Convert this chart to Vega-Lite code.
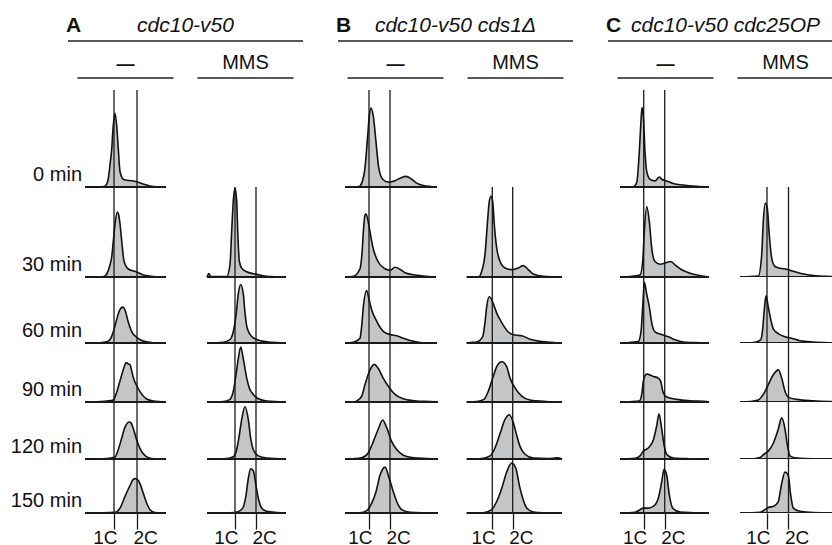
{
"$schema":"https://vega.github.io/schema/vega-lite/v6.json",
"padding":0,
"spacing":0,
"datasets":{
"markers":[{"ploidy":"1C","dna":1},{"ploidy":"2C","dna":2}],
"strains":[{"g":"A","lvl":"strain","strain":"cdc10-v50"},{"g":"B","lvl":"strain","strain":"cdc10-v50 cds1Δ"},{"g":"C","lvl":"strain","strain":"cdc10-v50 cdc25OP"}],
"treatments":[{"g":"A","lvl":"treatment","tr":"—"},{"g":"A","lvl":"treatment","tr":"MMS"},{"g":"B","lvl":"treatment","tr":"—"},{"g":"B","lvl":"treatment","tr":"MMS"},{"g":"C","lvl":"treatment","tr":"—"},{"g":"C","lvl":"treatment","tr":"MMS"}],
"flow":[
{"g":"A","tr":"—","min":0,"dna":-0.26,"n":0},{"g":"A","tr":"—","min":0,"dna":0.565,"n":0.5},{"g":"A","tr":"—","min":0,"dna":0.683,"n":3},{"g":"A","tr":"—","min":0,"dna":0.761,"n":10},{"g":"A","tr":"—","min":0,"dna":0.826,"n":23},{"g":"A","tr":"—","min":0,"dna":0.9,"n":39},{"g":"A","tr":"—","min":0,"dna":0.957,"n":60},{"g":"A","tr":"—","min":0,"dna":1.043,"n":76},{"g":"A","tr":"—","min":0,"dna":1.117,"n":63},{"g":"A","tr":"—","min":0,"dna":1.187,"n":39},{"g":"A","tr":"—","min":0,"dna":1.261,"n":16},{"g":"A","tr":"—","min":0,"dna":1.404,"n":8},{"g":"A","tr":"—","min":0,"dna":1.552,"n":7},{"g":"A","tr":"—","min":0,"dna":1.739,"n":6.5},{"g":"A","tr":"—","min":0,"dna":1.987,"n":5.5},{"g":"A","tr":"—","min":0,"dna":2.274,"n":3},{"g":"A","tr":"—","min":0,"dna":2.565,"n":1},{"g":"A","tr":"—","min":0,"dna":2.913,"n":0.2},{"g":"A","tr":"—","min":0,"dna":3.261,"n":0},
{"g":"A","tr":"—","min":30,"dna":-0.26,"n":0},{"g":"A","tr":"—","min":30,"dna":0.565,"n":0.5},{"g":"A","tr":"—","min":30,"dna":0.683,"n":3},{"g":"A","tr":"—","min":30,"dna":0.826,"n":12},{"g":"A","tr":"—","min":30,"dna":0.9,"n":20},{"g":"A","tr":"—","min":30,"dna":0.97,"n":36},{"g":"A","tr":"—","min":30,"dna":1.043,"n":53},{"g":"A","tr":"—","min":30,"dna":1.143,"n":65},{"g":"A","tr":"—","min":30,"dna":1.204,"n":62},{"g":"A","tr":"—","min":30,"dna":1.261,"n":53},{"g":"A","tr":"—","min":30,"dna":1.335,"n":36},{"g":"A","tr":"—","min":30,"dna":1.435,"n":16},{"g":"A","tr":"—","min":30,"dna":1.622,"n":8},{"g":"A","tr":"—","min":30,"dna":1.987,"n":5},{"g":"A","tr":"—","min":30,"dna":2.274,"n":2},{"g":"A","tr":"—","min":30,"dna":2.696,"n":0.5},{"g":"A","tr":"—","min":30,"dna":3.261,"n":0},
{"g":"A","tr":"—","min":60,"dna":-0.26,"n":0},{"g":"A","tr":"—","min":60,"dna":0.391,"n":0.3},{"g":"A","tr":"—","min":60,"dna":0.683,"n":1.3},{"g":"A","tr":"—","min":60,"dna":0.826,"n":3.7},{"g":"A","tr":"—","min":60,"dna":0.97,"n":12},{"g":"A","tr":"—","min":60,"dna":1.117,"n":25},{"g":"A","tr":"—","min":60,"dna":1.23,"n":34},{"g":"A","tr":"—","min":60,"dna":1.378,"n":38},{"g":"A","tr":"—","min":60,"dna":1.478,"n":35},{"g":"A","tr":"—","min":60,"dna":1.622,"n":22},{"g":"A","tr":"—","min":60,"dna":1.77,"n":12},{"g":"A","tr":"—","min":60,"dna":1.987,"n":6},{"g":"A","tr":"—","min":60,"dna":2.274,"n":2},{"g":"A","tr":"—","min":60,"dna":2.709,"n":0.3},{"g":"A","tr":"—","min":60,"dna":3.261,"n":0},
{"g":"A","tr":"—","min":90,"dna":-0.26,"n":0},{"g":"A","tr":"—","min":90,"dna":0.391,"n":0.5},{"g":"A","tr":"—","min":90,"dna":0.683,"n":1},{"g":"A","tr":"—","min":90,"dna":0.97,"n":2},{"g":"A","tr":"—","min":90,"dna":1.117,"n":10},{"g":"A","tr":"—","min":90,"dna":1.261,"n":21.5},{"g":"A","tr":"—","min":90,"dna":1.435,"n":35},{"g":"A","tr":"—","min":90,"dna":1.522,"n":40},{"g":"A","tr":"—","min":90,"dna":1.609,"n":39},{"g":"A","tr":"—","min":90,"dna":1.696,"n":38},{"g":"A","tr":"—","min":90,"dna":1.77,"n":31.5},{"g":"A","tr":"—","min":90,"dna":1.839,"n":25},{"g":"A","tr":"—","min":90,"dna":1.987,"n":16.5},{"g":"A","tr":"—","min":90,"dna":2.204,"n":8},{"g":"A","tr":"—","min":90,"dna":2.422,"n":3},{"g":"A","tr":"—","min":90,"dna":2.709,"n":1},{"g":"A","tr":"—","min":90,"dna":3.261,"n":0},
{"g":"A","tr":"—","min":120,"dna":-0.26,"n":0},{"g":"A","tr":"—","min":120,"dna":0.683,"n":0.5},{"g":"A","tr":"—","min":120,"dna":1.043,"n":2},{"g":"A","tr":"—","min":120,"dna":1.187,"n":10},{"g":"A","tr":"—","min":120,"dna":1.335,"n":22},{"g":"A","tr":"—","min":120,"dna":1.478,"n":33.5},{"g":"A","tr":"—","min":120,"dna":1.665,"n":39},{"g":"A","tr":"—","min":120,"dna":1.739,"n":38},{"g":"A","tr":"—","min":120,"dna":1.839,"n":32},{"g":"A","tr":"—","min":120,"dna":1.987,"n":20},{"g":"A","tr":"—","min":120,"dna":2.13,"n":11},{"g":"A","tr":"—","min":120,"dna":2.348,"n":3.5},{"g":"A","tr":"—","min":120,"dna":2.639,"n":0.5},{"g":"A","tr":"—","min":120,"dna":3.261,"n":0},
{"g":"A","tr":"—","min":150,"dna":-0.26,"n":0},{"g":"A","tr":"—","min":150,"dna":1.043,"n":0.7},{"g":"A","tr":"—","min":150,"dna":1.261,"n":5},{"g":"A","tr":"—","min":150,"dna":1.478,"n":17},{"g":"A","tr":"—","min":150,"dna":1.696,"n":28},{"g":"A","tr":"—","min":150,"dna":1.826,"n":34},{"g":"A","tr":"—","min":150,"dna":1.913,"n":35},{"g":"A","tr":"—","min":150,"dna":2.0,"n":34.5},{"g":"A","tr":"—","min":150,"dna":2.13,"n":30},{"g":"A","tr":"—","min":150,"dna":2.274,"n":20},{"g":"A","tr":"—","min":150,"dna":2.422,"n":10},{"g":"A","tr":"—","min":150,"dna":2.565,"n":3.4},{"g":"A","tr":"—","min":150,"dna":2.783,"n":0.5},{"g":"A","tr":"—","min":150,"dna":3.261,"n":0},
{"g":"A","tr":"MMS","min":30,"dna":-0.333,"n":0},{"g":"A","tr":"MMS","min":30,"dna":-0.238,"n":3.5},{"g":"A","tr":"MMS","min":30,"dna":-0.167,"n":0.5},{"g":"A","tr":"MMS","min":30,"dna":0.605,"n":0.5},{"g":"A","tr":"MMS","min":30,"dna":0.762,"n":12.7},{"g":"A","tr":"MMS","min":30,"dna":0.843,"n":46},{"g":"A","tr":"MMS","min":30,"dna":0.919,"n":76},{"g":"A","tr":"MMS","min":30,"dna":1.0,"n":89},{"g":"A","tr":"MMS","min":30,"dna":1.081,"n":76},{"g":"A","tr":"MMS","min":30,"dna":1.129,"n":46},{"g":"A","tr":"MMS","min":30,"dna":1.205,"n":16},{"g":"A","tr":"MMS","min":30,"dna":1.319,"n":8.7},{"g":"A","tr":"MMS","min":30,"dna":1.557,"n":5.3},{"g":"A","tr":"MMS","min":30,"dna":1.871,"n":3.3},{"g":"A","tr":"MMS","min":30,"dna":2.19,"n":2},{"g":"A","tr":"MMS","min":30,"dna":2.51,"n":0.7},{"g":"A","tr":"MMS","min":30,"dna":3.429,"n":0},
{"g":"A","tr":"MMS","min":60,"dna":-0.333,"n":0},{"g":"A","tr":"MMS","min":60,"dna":0.443,"n":0.7},{"g":"A","tr":"MMS","min":60,"dna":0.762,"n":3.7},{"g":"A","tr":"MMS","min":60,"dna":0.919,"n":12},{"g":"A","tr":"MMS","min":60,"dna":1.048,"n":29},{"g":"A","tr":"MMS","min":60,"dna":1.157,"n":52},{"g":"A","tr":"MMS","min":60,"dna":1.271,"n":62},{"g":"A","tr":"MMS","min":60,"dna":1.395,"n":52},{"g":"A","tr":"MMS","min":60,"dna":1.476,"n":32},{"g":"A","tr":"MMS","min":60,"dna":1.586,"n":15.3},{"g":"A","tr":"MMS","min":60,"dna":1.795,"n":7},{"g":"A","tr":"MMS","min":60,"dna":2.033,"n":3.7},{"g":"A","tr":"MMS","min":60,"dna":2.51,"n":1.3},{"g":"A","tr":"MMS","min":60,"dna":3.143,"n":0.3},{"g":"A","tr":"MMS","min":60,"dna":3.429,"n":0},
{"g":"A","tr":"MMS","min":90,"dna":-0.333,"n":0},{"g":"A","tr":"MMS","min":90,"dna":0.443,"n":0.5},{"g":"A","tr":"MMS","min":90,"dna":0.762,"n":2.7},{"g":"A","tr":"MMS","min":90,"dna":0.919,"n":11},{"g":"A","tr":"MMS","min":90,"dna":1.048,"n":27.7},{"g":"A","tr":"MMS","min":90,"dna":1.157,"n":44},{"g":"A","tr":"MMS","min":90,"dna":1.271,"n":56},{"g":"A","tr":"MMS","min":90,"dna":1.395,"n":44},{"g":"A","tr":"MMS","min":90,"dna":1.557,"n":24.3},{"g":"A","tr":"MMS","min":90,"dna":1.681,"n":14.3},{"g":"A","tr":"MMS","min":90,"dna":1.871,"n":7.7},{"g":"A","tr":"MMS","min":90,"dna":2.11,"n":3.3},{"g":"A","tr":"MMS","min":90,"dna":2.51,"n":1},{"g":"A","tr":"MMS","min":90,"dna":3.429,"n":0},
{"g":"A","tr":"MMS","min":120,"dna":-0.333,"n":0},{"g":"A","tr":"MMS","min":120,"dna":0.605,"n":0.5},{"g":"A","tr":"MMS","min":120,"dna":0.919,"n":2.3},{"g":"A","tr":"MMS","min":120,"dna":1.081,"n":10},{"g":"A","tr":"MMS","min":120,"dna":1.205,"n":25},{"g":"A","tr":"MMS","min":120,"dna":1.319,"n":41.6},{"g":"A","tr":"MMS","min":120,"dna":1.476,"n":55},{"g":"A","tr":"MMS","min":120,"dna":1.633,"n":41.6},{"g":"A","tr":"MMS","min":120,"dna":1.748,"n":21.6},{"g":"A","tr":"MMS","min":120,"dna":1.871,"n":10},{"g":"A","tr":"MMS","min":120,"dna":2.11,"n":3.3},{"g":"A","tr":"MMS","min":120,"dna":2.51,"n":1},{"g":"A","tr":"MMS","min":120,"dna":3.429,"n":0},
{"g":"A","tr":"MMS","min":150,"dna":-0.333,"n":0},{"g":"A","tr":"MMS","min":150,"dna":0.762,"n":0.3},{"g":"A","tr":"MMS","min":150,"dna":1.11,"n":1},{"g":"A","tr":"MMS","min":150,"dna":1.367,"n":5},{"g":"A","tr":"MMS","min":150,"dna":1.524,"n":18},{"g":"A","tr":"MMS","min":150,"dna":1.633,"n":35},{"g":"A","tr":"MMS","min":150,"dna":1.748,"n":45},{"g":"A","tr":"MMS","min":150,"dna":1.871,"n":43},{"g":"A","tr":"MMS","min":150,"dna":2.0,"n":28},{"g":"A","tr":"MMS","min":150,"dna":2.11,"n":15},{"g":"A","tr":"MMS","min":150,"dna":2.271,"n":5},{"g":"A","tr":"MMS","min":150,"dna":2.51,"n":1.7},{"g":"A","tr":"MMS","min":150,"dna":2.986,"n":0.5},{"g":"A","tr":"MMS","min":150,"dna":3.429,"n":0},
{"g":"B","tr":"—","min":0,"dna":-0.143,"n":0},{"g":"B","tr":"—","min":0,"dna":0.524,"n":0.5},{"g":"B","tr":"—","min":0,"dna":0.652,"n":4},{"g":"B","tr":"—","min":0,"dna":0.81,"n":20},{"g":"B","tr":"—","min":0,"dna":0.938,"n":53},{"g":"B","tr":"—","min":0,"dna":1.014,"n":73},{"g":"B","tr":"—","min":0,"dna":1.095,"n":81.5},{"g":"B","tr":"—","min":0,"dna":1.205,"n":73},{"g":"B","tr":"—","min":0,"dna":1.333,"n":46.5},{"g":"B","tr":"—","min":0,"dna":1.462,"n":20},{"g":"B","tr":"—","min":0,"dna":1.652,"n":8},{"g":"B","tr":"—","min":0,"dna":1.919,"n":5},{"g":"B","tr":"—","min":0,"dna":2.238,"n":6.5},{"g":"B","tr":"—","min":0,"dna":2.476,"n":9},{"g":"B","tr":"—","min":0,"dna":2.762,"n":11},{"g":"B","tr":"—","min":0,"dna":3.033,"n":8},{"g":"B","tr":"—","min":0,"dna":3.271,"n":4},{"g":"B","tr":"—","min":0,"dna":3.586,"n":1.5},{"g":"B","tr":"—","min":0,"dna":4.238,"n":0},
{"g":"B","tr":"—","min":30,"dna":-0.143,"n":0},{"g":"B","tr":"—","min":30,"dna":0.252,"n":0.7},{"g":"B","tr":"—","min":30,"dna":0.571,"n":8.3},{"g":"B","tr":"—","min":30,"dna":0.681,"n":28},{"g":"B","tr":"—","min":30,"dna":0.729,"n":45},{"g":"B","tr":"—","min":30,"dna":0.81,"n":62},{"g":"B","tr":"—","min":30,"dna":0.857,"n":63},{"g":"B","tr":"—","min":30,"dna":0.938,"n":58},{"g":"B","tr":"—","min":30,"dna":1.048,"n":45},{"g":"B","tr":"—","min":30,"dna":1.205,"n":28},{"g":"B","tr":"—","min":30,"dna":1.443,"n":15},{"g":"B","tr":"—","min":30,"dna":1.762,"n":8.3},{"g":"B","tr":"—","min":30,"dna":2.0,"n":6.7},{"g":"B","tr":"—","min":30,"dna":2.238,"n":9.7},{"g":"B","tr":"—","min":30,"dna":2.476,"n":7.7},{"g":"B","tr":"—","min":30,"dna":2.714,"n":4.3},{"g":"B","tr":"—","min":30,"dna":3.11,"n":2.3},{"g":"B","tr":"—","min":30,"dna":3.586,"n":1},{"g":"B","tr":"—","min":30,"dna":4.19,"n":0},
{"g":"B","tr":"—","min":60,"dna":-0.143,"n":0},{"g":"B","tr":"—","min":60,"dna":0.252,"n":0.8},{"g":"B","tr":"—","min":60,"dna":0.571,"n":5},{"g":"B","tr":"—","min":60,"dna":0.652,"n":18},{"g":"B","tr":"—","min":60,"dna":0.729,"n":38},{"g":"B","tr":"—","min":60,"dna":0.89,"n":55.7},{"g":"B","tr":"—","min":60,"dna":1.014,"n":45},{"g":"B","tr":"—","min":60,"dna":1.129,"n":35},{"g":"B","tr":"—","min":60,"dna":1.367,"n":23},{"g":"B","tr":"—","min":60,"dna":1.681,"n":12.4},{"g":"B","tr":"—","min":60,"dna":2.0,"n":9},{"g":"B","tr":"—","min":60,"dna":2.319,"n":7.7},{"g":"B","tr":"—","min":60,"dna":2.633,"n":5},{"g":"B","tr":"—","min":60,"dna":2.952,"n":2.7},{"g":"B","tr":"—","min":60,"dna":3.429,"n":0.5},{"g":"B","tr":"—","min":60,"dna":4.238,"n":0},
{"g":"B","tr":"—","min":90,"dna":-0.143,"n":0},{"g":"B","tr":"—","min":90,"dna":0.333,"n":0.3},{"g":"B","tr":"—","min":90,"dna":0.414,"n":1},{"g":"B","tr":"—","min":90,"dna":0.652,"n":6},{"g":"B","tr":"—","min":90,"dna":0.81,"n":17.7},{"g":"B","tr":"—","min":90,"dna":1.014,"n":31},{"g":"B","tr":"—","min":90,"dna":1.252,"n":38.3},{"g":"B","tr":"—","min":90,"dna":1.443,"n":34},{"g":"B","tr":"—","min":90,"dna":1.681,"n":24},{"g":"B","tr":"—","min":90,"dna":1.919,"n":16},{"g":"B","tr":"—","min":90,"dna":2.238,"n":7.7},{"g":"B","tr":"—","min":90,"dna":2.633,"n":3.3},{"g":"B","tr":"—","min":90,"dna":3.271,"n":1},{"g":"B","tr":"—","min":90,"dna":3.905,"n":0.5},{"g":"B","tr":"—","min":90,"dna":4.286,"n":0},
{"g":"B","tr":"—","min":120,"dna":-0.143,"n":0},{"g":"B","tr":"—","min":120,"dna":0.252,"n":0.3},{"g":"B","tr":"—","min":120,"dna":0.652,"n":1.3},{"g":"B","tr":"—","min":120,"dna":0.967,"n":6.6},{"g":"B","tr":"—","min":120,"dna":1.205,"n":18.3},{"g":"B","tr":"—","min":120,"dna":1.443,"n":31.6},{"g":"B","tr":"—","min":120,"dna":1.652,"n":41},{"g":"B","tr":"—","min":120,"dna":1.843,"n":33},{"g":"B","tr":"—","min":120,"dna":2.081,"n":18.3},{"g":"B","tr":"—","min":120,"dna":2.319,"n":10},{"g":"B","tr":"—","min":120,"dna":2.633,"n":4},{"g":"B","tr":"—","min":120,"dna":3.11,"n":1.3},{"g":"B","tr":"—","min":120,"dna":3.748,"n":0.5},{"g":"B","tr":"—","min":120,"dna":4.286,"n":0},
{"g":"B","tr":"—","min":150,"dna":-0.143,"n":0},{"g":"B","tr":"—","min":150,"dna":0.571,"n":0.3},{"g":"B","tr":"—","min":150,"dna":0.89,"n":2.4},{"g":"B","tr":"—","min":150,"dna":1.129,"n":10},{"g":"B","tr":"—","min":150,"dna":1.333,"n":21.7},{"g":"B","tr":"—","min":150,"dna":1.524,"n":38.4},{"g":"B","tr":"—","min":150,"dna":1.762,"n":46.7},{"g":"B","tr":"—","min":150,"dna":1.967,"n":35},{"g":"B","tr":"—","min":150,"dna":2.157,"n":21.7},{"g":"B","tr":"—","min":150,"dna":2.319,"n":11.7},{"g":"B","tr":"—","min":150,"dna":2.557,"n":3.4},{"g":"B","tr":"—","min":150,"dna":2.952,"n":0.7},{"g":"B","tr":"—","min":150,"dna":4.286,"n":0},
{"g":"B","tr":"MMS","min":30,"dna":-0.255,"n":0},{"g":"B","tr":"MMS","min":30,"dna":0.363,"n":0.5},{"g":"B","tr":"MMS","min":30,"dna":0.48,"n":5.7},{"g":"B","tr":"MMS","min":30,"dna":0.642,"n":22.4},{"g":"B","tr":"MMS","min":30,"dna":0.755,"n":52.4},{"g":"B","tr":"MMS","min":30,"dna":0.853,"n":75.7},{"g":"B","tr":"MMS","min":30,"dna":0.936,"n":80.7},{"g":"B","tr":"MMS","min":30,"dna":1.02,"n":75.7},{"g":"B","tr":"MMS","min":30,"dna":1.098,"n":52.4},{"g":"B","tr":"MMS","min":30,"dna":1.216,"n":29},{"g":"B","tr":"MMS","min":30,"dna":1.377,"n":15.7},{"g":"B","tr":"MMS","min":30,"dna":1.623,"n":9},{"g":"B","tr":"MMS","min":30,"dna":1.951,"n":7.4},{"g":"B","tr":"MMS","min":30,"dna":2.275,"n":9},{"g":"B","tr":"MMS","min":30,"dna":2.52,"n":11.4},{"g":"B","tr":"MMS","min":30,"dna":2.765,"n":7.4},{"g":"B","tr":"MMS","min":30,"dna":3.01,"n":3},{"g":"B","tr":"MMS","min":30,"dna":3.5,"n":0.7},{"g":"B","tr":"MMS","min":30,"dna":4.417,"n":0},
{"g":"B","tr":"MMS","min":60,"dna":-0.255,"n":0},{"g":"B","tr":"MMS","min":60,"dna":-0.176,"n":0.3},{"g":"B","tr":"MMS","min":60,"dna":0.235,"n":1},{"g":"B","tr":"MMS","min":60,"dna":0.529,"n":6.7},{"g":"B","tr":"MMS","min":60,"dna":0.642,"n":21.7},{"g":"B","tr":"MMS","min":60,"dna":0.725,"n":38.4},{"g":"B","tr":"MMS","min":60,"dna":0.853,"n":49},{"g":"B","tr":"MMS","min":60,"dna":1.049,"n":41.7},{"g":"B","tr":"MMS","min":60,"dna":1.216,"n":31.7},{"g":"B","tr":"MMS","min":60,"dna":1.461,"n":21.7},{"g":"B","tr":"MMS","min":60,"dna":1.784,"n":11.7},{"g":"B","tr":"MMS","min":60,"dna":2.113,"n":8.4},{"g":"B","tr":"MMS","min":60,"dna":2.441,"n":7.7},{"g":"B","tr":"MMS","min":60,"dna":2.848,"n":4},{"g":"B","tr":"MMS","min":60,"dna":3.338,"n":1.7},{"g":"B","tr":"MMS","min":60,"dna":3.99,"n":0.5},{"g":"B","tr":"MMS","min":60,"dna":4.417,"n":0},
{"g":"B","tr":"MMS","min":90,"dna":-0.255,"n":0},{"g":"B","tr":"MMS","min":90,"dna":0.235,"n":0.5},{"g":"B","tr":"MMS","min":90,"dna":0.593,"n":2.7},{"g":"B","tr":"MMS","min":90,"dna":0.804,"n":11},{"g":"B","tr":"MMS","min":90,"dna":1.02,"n":24.3},{"g":"B","tr":"MMS","min":90,"dna":1.216,"n":36},{"g":"B","tr":"MMS","min":90,"dna":1.461,"n":41},{"g":"B","tr":"MMS","min":90,"dna":1.706,"n":36},{"g":"B","tr":"MMS","min":90,"dna":1.868,"n":24.3},{"g":"B","tr":"MMS","min":90,"dna":2.113,"n":14.3},{"g":"B","tr":"MMS","min":90,"dna":2.441,"n":6},{"g":"B","tr":"MMS","min":90,"dna":2.848,"n":2},{"g":"B","tr":"MMS","min":90,"dna":3.662,"n":0.5},{"g":"B","tr":"MMS","min":90,"dna":4.417,"n":0},
{"g":"B","tr":"MMS","min":120,"dna":-0.255,"n":0},{"g":"B","tr":"MMS","min":120,"dna":0.48,"n":0.5},{"g":"B","tr":"MMS","min":120,"dna":0.887,"n":3.3},{"g":"B","tr":"MMS","min":120,"dna":1.132,"n":11.6},{"g":"B","tr":"MMS","min":120,"dna":1.377,"n":26.6},{"g":"B","tr":"MMS","min":120,"dna":1.623,"n":41.6},{"g":"B","tr":"MMS","min":120,"dna":1.833,"n":46.6},{"g":"B","tr":"MMS","min":120,"dna":2.029,"n":38.3},{"g":"B","tr":"MMS","min":120,"dna":2.196,"n":25},{"g":"B","tr":"MMS","min":120,"dna":2.358,"n":13.3},{"g":"B","tr":"MMS","min":120,"dna":2.603,"n":5},{"g":"B","tr":"MMS","min":120,"dna":3.01,"n":1},{"g":"B","tr":"MMS","min":120,"dna":3.696,"n":0.5},{"g":"B","tr":"MMS","min":120,"dna":4.186,"n":1.2},{"g":"B","tr":"MMS","min":120,"dna":4.417,"n":0},
{"g":"B","tr":"MMS","min":150,"dna":-0.255,"n":0},{"g":"B","tr":"MMS","min":150,"dna":0.559,"n":0.3},{"g":"B","tr":"MMS","min":150,"dna":0.971,"n":3.4},{"g":"B","tr":"MMS","min":150,"dna":1.216,"n":11.7},{"g":"B","tr":"MMS","min":150,"dna":1.461,"n":25},{"g":"B","tr":"MMS","min":150,"dna":1.706,"n":41.7},{"g":"B","tr":"MMS","min":150,"dna":1.951,"n":51},{"g":"B","tr":"MMS","min":150,"dna":2.162,"n":45},{"g":"B","tr":"MMS","min":150,"dna":2.324,"n":28.4},{"g":"B","tr":"MMS","min":150,"dna":2.49,"n":15},{"g":"B","tr":"MMS","min":150,"dna":2.686,"n":5},{"g":"B","tr":"MMS","min":150,"dna":3.01,"n":1},{"g":"B","tr":"MMS","min":150,"dna":3.5,"n":0.3},{"g":"B","tr":"MMS","min":150,"dna":4.417,"n":0},
{"g":"C","tr":"—","min":0,"dna":-0.129,"n":0},{"g":"C","tr":"—","min":0,"dna":0.524,"n":0.5},{"g":"C","tr":"—","min":0,"dna":0.667,"n":4.6},{"g":"C","tr":"—","min":0,"dna":0.79,"n":36},{"g":"C","tr":"—","min":0,"dna":0.857,"n":63},{"g":"C","tr":"—","min":0,"dna":0.919,"n":82},{"g":"C","tr":"—","min":0,"dna":0.981,"n":73},{"g":"C","tr":"—","min":0,"dna":1.062,"n":36},{"g":"C","tr":"—","min":0,"dna":1.143,"n":16},{"g":"C","tr":"—","min":0,"dna":1.3,"n":8},{"g":"C","tr":"—","min":0,"dna":1.538,"n":6.3},{"g":"C","tr":"—","min":0,"dna":1.743,"n":10.3},{"g":"C","tr":"—","min":0,"dna":1.857,"n":8},{"g":"C","tr":"—","min":0,"dna":2.095,"n":6.3},{"g":"C","tr":"—","min":0,"dna":2.41,"n":3.6},{"g":"C","tr":"—","min":0,"dna":2.886,"n":2},{"g":"C","tr":"—","min":0,"dna":3.524,"n":0.7},{"g":"C","tr":"—","min":0,"dna":4.11,"n":0},
{"g":"C","tr":"—","min":30,"dna":-0.129,"n":0},{"g":"C","tr":"—","min":30,"dna":0.348,"n":0.5},{"g":"C","tr":"—","min":30,"dna":0.824,"n":2},{"g":"C","tr":"—","min":30,"dna":0.952,"n":15.5},{"g":"C","tr":"—","min":30,"dna":1.029,"n":45.5},{"g":"C","tr":"—","min":30,"dna":1.143,"n":70.5},{"g":"C","tr":"—","min":30,"dna":1.267,"n":55.5},{"g":"C","tr":"—","min":30,"dna":1.381,"n":28.8},{"g":"C","tr":"—","min":30,"dna":1.538,"n":15.5},{"g":"C","tr":"—","min":30,"dna":1.776,"n":12.8},{"g":"C","tr":"—","min":30,"dna":2.095,"n":14.5},{"g":"C","tr":"—","min":30,"dna":2.286,"n":15.5},{"g":"C","tr":"—","min":30,"dna":2.49,"n":12.2},{"g":"C","tr":"—","min":30,"dna":2.81,"n":7.2},{"g":"C","tr":"—","min":30,"dna":3.205,"n":3.8},{"g":"C","tr":"—","min":30,"dna":3.681,"n":1.5},{"g":"C","tr":"—","min":30,"dna":4.11,"n":0},
{"g":"C","tr":"—","min":60,"dna":-0.129,"n":0},{"g":"C","tr":"—","min":60,"dna":0.19,"n":0.3},{"g":"C","tr":"—","min":60,"dna":0.743,"n":1.5},{"g":"C","tr":"—","min":60,"dna":0.871,"n":11.7},{"g":"C","tr":"—","min":60,"dna":0.952,"n":38.4},{"g":"C","tr":"—","min":60,"dna":1.029,"n":64.4},{"g":"C","tr":"—","min":60,"dna":1.143,"n":51.7},{"g":"C","tr":"—","min":60,"dna":1.267,"n":38.4},{"g":"C","tr":"—","min":60,"dna":1.381,"n":21.7},{"g":"C","tr":"—","min":60,"dna":1.538,"n":11.7},{"g":"C","tr":"—","min":60,"dna":1.857,"n":9},{"g":"C","tr":"—","min":60,"dna":2.171,"n":6.7},{"g":"C","tr":"—","min":60,"dna":2.49,"n":3.4},{"g":"C","tr":"—","min":60,"dna":2.886,"n":1},{"g":"C","tr":"—","min":60,"dna":3.681,"n":0.3},{"g":"C","tr":"—","min":60,"dna":4.11,"n":0},
{"g":"C","tr":"—","min":90,"dna":-0.129,"n":0},{"g":"C","tr":"—","min":90,"dna":0.348,"n":0.3},{"g":"C","tr":"—","min":90,"dna":0.79,"n":1},{"g":"C","tr":"—","min":90,"dna":0.905,"n":7.7},{"g":"C","tr":"—","min":90,"dna":0.981,"n":21},{"g":"C","tr":"—","min":90,"dna":1.062,"n":27},{"g":"C","tr":"—","min":90,"dna":1.143,"n":28.3},{"g":"C","tr":"—","min":90,"dna":1.457,"n":26},{"g":"C","tr":"—","min":90,"dna":1.695,"n":24.3},{"g":"C","tr":"—","min":90,"dna":1.81,"n":21},{"g":"C","tr":"—","min":90,"dna":1.933,"n":9.3},{"g":"C","tr":"—","min":90,"dna":2.095,"n":5},{"g":"C","tr":"—","min":90,"dna":2.571,"n":2.7},{"g":"C","tr":"—","min":90,"dna":3.205,"n":1.3},{"g":"C","tr":"—","min":90,"dna":4.0,"n":0.5},{"g":"C","tr":"—","min":90,"dna":4.11,"n":0},
{"g":"C","tr":"—","min":120,"dna":-0.129,"n":0},{"g":"C","tr":"—","min":120,"dna":0.586,"n":0.7},{"g":"C","tr":"—","min":120,"dna":0.824,"n":3.3},{"g":"C","tr":"—","min":120,"dna":0.981,"n":8.3},{"g":"C","tr":"—","min":120,"dna":1.219,"n":11.6},{"g":"C","tr":"—","min":120,"dna":1.457,"n":20},{"g":"C","tr":"—","min":120,"dna":1.619,"n":35},{"g":"C","tr":"—","min":120,"dna":1.729,"n":47.6},{"g":"C","tr":"—","min":120,"dna":1.857,"n":31.6},{"g":"C","tr":"—","min":120,"dna":1.967,"n":15},{"g":"C","tr":"—","min":120,"dna":2.095,"n":5},{"g":"C","tr":"—","min":120,"dna":2.41,"n":1},{"g":"C","tr":"—","min":120,"dna":3.19,"n":0.3},{"g":"C","tr":"—","min":120,"dna":4.11,"n":0},
{"g":"C","tr":"—","min":150,"dna":-0.129,"n":0},{"g":"C","tr":"—","min":150,"dna":0.586,"n":0.7},{"g":"C","tr":"—","min":150,"dna":0.824,"n":3.4},{"g":"C","tr":"—","min":150,"dna":0.981,"n":5},{"g":"C","tr":"—","min":150,"dna":1.219,"n":5},{"g":"C","tr":"—","min":150,"dna":1.457,"n":6.7},{"g":"C","tr":"—","min":150,"dna":1.695,"n":15},{"g":"C","tr":"—","min":150,"dna":1.857,"n":31.7},{"g":"C","tr":"—","min":150,"dna":1.967,"n":44.4},{"g":"C","tr":"—","min":150,"dna":2.095,"n":38.4},{"g":"C","tr":"—","min":150,"dna":2.219,"n":18.4},{"g":"C","tr":"—","min":150,"dna":2.381,"n":5},{"g":"C","tr":"—","min":150,"dna":2.729,"n":1},{"g":"C","tr":"—","min":150,"dna":3.362,"n":0.3},{"g":"C","tr":"—","min":150,"dna":4.11,"n":0},
{"g":"C","tr":"MMS","min":30,"dna":-0.256,"n":0},{"g":"C","tr":"MMS","min":30,"dna":0.056,"n":0.3},{"g":"C","tr":"MMS","min":30,"dna":0.595,"n":1},{"g":"C","tr":"MMS","min":30,"dna":0.753,"n":22},{"g":"C","tr":"MMS","min":30,"dna":0.828,"n":55.5},{"g":"C","tr":"MMS","min":30,"dna":0.921,"n":73.8},{"g":"C","tr":"MMS","min":30,"dna":1.014,"n":68.8},{"g":"C","tr":"MMS","min":30,"dna":1.107,"n":42},{"g":"C","tr":"MMS","min":30,"dna":1.219,"n":18.8},{"g":"C","tr":"MMS","min":30,"dna":1.372,"n":10.5},{"g":"C","tr":"MMS","min":30,"dna":1.605,"n":8.8},{"g":"C","tr":"MMS","min":30,"dna":1.916,"n":7.8},{"g":"C","tr":"MMS","min":30,"dna":2.149,"n":6.2},{"g":"C","tr":"MMS","min":30,"dna":2.535,"n":3.8},{"g":"C","tr":"MMS","min":30,"dna":3.153,"n":1.5},{"g":"C","tr":"MMS","min":30,"dna":3.93,"n":0.5},{"g":"C","tr":"MMS","min":30,"dna":4.953,"n":0},
{"g":"C","tr":"MMS","min":60,"dna":-0.256,"n":0},{"g":"C","tr":"MMS","min":60,"dna":0.363,"n":0.5},{"g":"C","tr":"MMS","min":60,"dna":0.707,"n":3.4},{"g":"C","tr":"MMS","min":60,"dna":0.8,"n":15},{"g":"C","tr":"MMS","min":60,"dna":0.874,"n":35},{"g":"C","tr":"MMS","min":60,"dna":0.953,"n":50},{"g":"C","tr":"MMS","min":60,"dna":1.06,"n":38.4},{"g":"C","tr":"MMS","min":60,"dna":1.172,"n":25},{"g":"C","tr":"MMS","min":60,"dna":1.293,"n":15},{"g":"C","tr":"MMS","min":60,"dna":1.526,"n":10},{"g":"C","tr":"MMS","min":60,"dna":1.837,"n":6.7},{"g":"C","tr":"MMS","min":60,"dna":2.149,"n":5},{"g":"C","tr":"MMS","min":60,"dna":2.535,"n":2.4},{"g":"C","tr":"MMS","min":60,"dna":3.153,"n":1},{"g":"C","tr":"MMS","min":60,"dna":3.93,"n":0.3},{"g":"C","tr":"MMS","min":60,"dna":4.953,"n":0},
{"g":"C","tr":"MMS","min":90,"dna":-0.256,"n":0},{"g":"C","tr":"MMS","min":90,"dna":0.209,"n":0.5},{"g":"C","tr":"MMS","min":90,"dna":0.595,"n":2},{"g":"C","tr":"MMS","min":90,"dna":0.828,"n":7.7},{"g":"C","tr":"MMS","min":90,"dna":1.06,"n":17.7},{"g":"C","tr":"MMS","min":90,"dna":1.293,"n":27.7},{"g":"C","tr":"MMS","min":90,"dna":1.526,"n":32.7},{"g":"C","tr":"MMS","min":90,"dna":1.684,"n":24.3},{"g":"C","tr":"MMS","min":90,"dna":1.837,"n":11},{"g":"C","tr":"MMS","min":90,"dna":1.991,"n":5},{"g":"C","tr":"MMS","min":90,"dna":2.381,"n":2.7},{"g":"C","tr":"MMS","min":90,"dna":3.153,"n":1.3},{"g":"C","tr":"MMS","min":90,"dna":3.93,"n":0.5},{"g":"C","tr":"MMS","min":90,"dna":4.953,"n":0},
{"g":"C","tr":"MMS","min":120,"dna":-0.256,"n":0},{"g":"C","tr":"MMS","min":120,"dna":0.363,"n":0.3},{"g":"C","tr":"MMS","min":120,"dna":0.674,"n":1.6},{"g":"C","tr":"MMS","min":120,"dna":0.86,"n":5},{"g":"C","tr":"MMS","min":120,"dna":1.06,"n":8.3},{"g":"C","tr":"MMS","min":120,"dna":1.293,"n":16.6},{"g":"C","tr":"MMS","min":120,"dna":1.526,"n":31.6},{"g":"C","tr":"MMS","min":120,"dna":1.684,"n":43.3},{"g":"C","tr":"MMS","min":120,"dna":1.837,"n":31.6},{"g":"C","tr":"MMS","min":120,"dna":1.944,"n":15},{"g":"C","tr":"MMS","min":120,"dna":2.07,"n":3.3},{"g":"C","tr":"MMS","min":120,"dna":2.381,"n":1},{"g":"C","tr":"MMS","min":120,"dna":3.153,"n":0.3},{"g":"C","tr":"MMS","min":120,"dna":4.953,"n":0},
{"g":"C","tr":"MMS","min":150,"dna":-0.256,"n":0},{"g":"C","tr":"MMS","min":150,"dna":0.674,"n":0.7},{"g":"C","tr":"MMS","min":150,"dna":0.907,"n":3.4},{"g":"C","tr":"MMS","min":150,"dna":1.06,"n":5.7},{"g":"C","tr":"MMS","min":150,"dna":1.293,"n":6.7},{"g":"C","tr":"MMS","min":150,"dna":1.526,"n":11.7},{"g":"C","tr":"MMS","min":150,"dna":1.684,"n":30},{"g":"C","tr":"MMS","min":150,"dna":1.837,"n":41.7},{"g":"C","tr":"MMS","min":150,"dna":1.991,"n":38.4},{"g":"C","tr":"MMS","min":150,"dna":2.102,"n":18.4},{"g":"C","tr":"MMS","min":150,"dna":2.223,"n":5},{"g":"C","tr":"MMS","min":150,"dna":2.535,"n":1.7},{"g":"C","tr":"MMS","min":150,"dna":3.153,"n":0.5},{"g":"C","tr":"MMS","min":150,"dna":4.953,"n":0}
]},
"vconcat":[
{"width":832,"height":89,
 "layer":[
  {"data":{"name":"strains"},"mark":{"type":"text","align":"left","baseline":"alphabetic","fontSize":21,"fontWeight":"bold","dx":-2},
   "encoding":{"x":{"field":"g","type":"nominal","axis":null,"bandPosition":0,"scale":{"domain":["A","B","C"],"range":[68,843],"paddingInner":0.1296,"paddingOuter":0}},
    "y":{"field":"lvl","type":"nominal","axis":null,"bandPosition":0.72,"scale":{"domain":["strain","treatment"],"paddingInner":0,"paddingOuter":0}},
    "text":{"field":"g"}}},
  {"data":{"name":"strains"},"mark":{"type":"text","align":"center","baseline":"alphabetic","fontSize":21,"fontStyle":"italic"},
   "encoding":{"x":{"field":"g","type":"nominal","axis":null},
    "y":{"field":"lvl","type":"nominal","axis":null,"bandPosition":0.72},
    "text":{"field":"strain"}}},
  {"data":{"name":"strains"},"mark":{"type":"tick","orient":"horizontal","size":235,"thickness":2,"clip":true},
   "encoding":{"x":{"field":"g","type":"nominal","axis":null},
    "y":{"field":"lvl","type":"nominal","axis":null,"bandPosition":0.92}}},
  {"data":{"name":"treatments"},"transform":[{"filter":"datum.tr=='MMS'"}],"mark":{"type":"text","align":"center","baseline":"alphabetic","fontSize":20},
   "encoding":{"x":{"field":"g","type":"nominal","axis":null},
    "xOffset":{"field":"tr","type":"nominal","scale":{"domain":["—","MMS"],"paddingInner":0.2,"paddingOuter":0.079}},
    "y":{"field":"lvl","type":"nominal","axis":null,"bandPosition":0.555},
    "text":{"field":"tr"}}},
  {"data":{"name":"treatments"},"transform":[{"filter":"datum.tr=='—'"}],"mark":{"type":"text","align":"center","baseline":"alphabetic","fontSize":18,"fontWeight":"bold"},
   "encoding":{"x":{"field":"g","type":"nominal","axis":null},
    "xOffset":{"field":"tr","type":"nominal"},
    "y":{"field":"lvl","type":"nominal","axis":null,"bandPosition":0.57},
    "text":{"field":"tr"}}},
  {"data":{"name":"treatments"},"mark":{"type":"tick","orient":"horizontal","size":96,"thickness":2,"clip":true},
   "encoding":{"x":{"field":"g","type":"nominal","axis":null},
    "xOffset":{"field":"tr","type":"nominal"},
    "y":{"field":"lvl","type":"nominal","axis":null,"bandPosition":0.753}}}
 ]},
{"hconcat":[
 {"vconcat":[
  {"width":186,"height":97,"data":{"name":"flow"},"transform":[{"filter":"datum.g=='A'&&datum.tr=='—'&&datum.min==0"}],"encoding":{"x":{"field":"dna","type":"quantitative","scale":{"domain":[-3.957,4.13],"nice":false,"zero":false},"axis":null}},"layer":[
   {"mark":"area","encoding":{"y":{"field":"n","type":"quantitative","scale":{"domain":[0,97]},"axis":null}}},
   {"data":{"name":"markers"},"mark":"rule"},
   {"mark":"line","encoding":{"y":{"field":"n","type":"quantitative","scale":{"domain":[0,97]},"axis":null}}},
   {"mark":{"type":"rule","strokeWidth":2},"encoding":{"x":{"aggregate":"min","field":"dna","type":"quantitative"},"x2":{"aggregate":"max","field":"dna"},"y":{"datum":0,"type":"quantitative"}}},
   {"transform":[{"aggregate":[{"op":"min","field":"dna","as":"x0"}],"groupby":["min"]},{"calculate":"datum.min+' min'","as":"lab"}],"mark":{"type":"text","align":"right","baseline":"alphabetic","dx":-3,"dy":-6,"fontSize":20},"encoding":{"x":{"field":"x0","type":"quantitative"},"y":{"datum":0,"type":"quantitative"},"text":{"field":"lab","type":"nominal"}}}
  ]},
  {"width":186,"height":90,"data":{"name":"flow"},"transform":[{"filter":"datum.g=='A'&&datum.tr=='—'&&datum.min==30"}],"encoding":{"x":{"field":"dna","type":"quantitative","scale":{"domain":[-3.957,4.13],"nice":false,"zero":false},"axis":null}},"layer":[
   {"mark":"area","encoding":{"y":{"field":"n","type":"quantitative","scale":{"domain":[0,90]},"axis":null}}},
   {"data":{"name":"markers"},"mark":"rule"},
   {"mark":"line","encoding":{"y":{"field":"n","type":"quantitative","scale":{"domain":[0,90]},"axis":null}}},
   {"mark":{"type":"rule","strokeWidth":2},"encoding":{"x":{"aggregate":"min","field":"dna","type":"quantitative"},"x2":{"aggregate":"max","field":"dna"},"y":{"datum":0,"type":"quantitative"}}},
   {"transform":[{"aggregate":[{"op":"min","field":"dna","as":"x0"}],"groupby":["min"]},{"calculate":"datum.min+' min'","as":"lab"}],"mark":{"type":"text","align":"right","baseline":"alphabetic","dx":-3,"dy":-6,"fontSize":20},"encoding":{"x":{"field":"x0","type":"quantitative"},"y":{"datum":0,"type":"quantitative"},"text":{"field":"lab","type":"nominal"}}}
  ]},
  {"width":186,"height":66,"data":{"name":"flow"},"transform":[{"filter":"datum.g=='A'&&datum.tr=='—'&&datum.min==60"}],"encoding":{"x":{"field":"dna","type":"quantitative","scale":{"domain":[-3.957,4.13],"nice":false,"zero":false},"axis":null}},"layer":[
   {"mark":"area","encoding":{"y":{"field":"n","type":"quantitative","scale":{"domain":[0,66]},"axis":null}}},
   {"data":{"name":"markers"},"mark":"rule"},
   {"mark":"line","encoding":{"y":{"field":"n","type":"quantitative","scale":{"domain":[0,66]},"axis":null}}},
   {"mark":{"type":"rule","strokeWidth":2},"encoding":{"x":{"aggregate":"min","field":"dna","type":"quantitative"},"x2":{"aggregate":"max","field":"dna"},"y":{"datum":0,"type":"quantitative"}}},
   {"transform":[{"aggregate":[{"op":"min","field":"dna","as":"x0"}],"groupby":["min"]},{"calculate":"datum.min+' min'","as":"lab"}],"mark":{"type":"text","align":"right","baseline":"alphabetic","dx":-3,"dy":-6,"fontSize":20},"encoding":{"x":{"field":"x0","type":"quantitative"},"y":{"datum":0,"type":"quantitative"},"text":{"field":"lab","type":"nominal"}}}
  ]},
  {"width":186,"height":59,"data":{"name":"flow"},"transform":[{"filter":"datum.g=='A'&&datum.tr=='—'&&datum.min==90"}],"encoding":{"x":{"field":"dna","type":"quantitative","scale":{"domain":[-3.957,4.13],"nice":false,"zero":false},"axis":null}},"layer":[
   {"mark":"area","encoding":{"y":{"field":"n","type":"quantitative","scale":{"domain":[0,59]},"axis":null}}},
   {"data":{"name":"markers"},"mark":"rule"},
   {"mark":"line","encoding":{"y":{"field":"n","type":"quantitative","scale":{"domain":[0,59]},"axis":null}}},
   {"mark":{"type":"rule","strokeWidth":2},"encoding":{"x":{"aggregate":"min","field":"dna","type":"quantitative"},"x2":{"aggregate":"max","field":"dna"},"y":{"datum":0,"type":"quantitative"}}},
   {"transform":[{"aggregate":[{"op":"min","field":"dna","as":"x0"}],"groupby":["min"]},{"calculate":"datum.min+' min'","as":"lab"}],"mark":{"type":"text","align":"right","baseline":"alphabetic","dx":-3,"dy":-6,"fontSize":20},"encoding":{"x":{"field":"x0","type":"quantitative"},"y":{"datum":0,"type":"quantitative"},"text":{"field":"lab","type":"nominal"}}}
  ]},
  {"width":186,"height":57,"data":{"name":"flow"},"transform":[{"filter":"datum.g=='A'&&datum.tr=='—'&&datum.min==120"}],"encoding":{"x":{"field":"dna","type":"quantitative","scale":{"domain":[-3.957,4.13],"nice":false,"zero":false},"axis":null}},"layer":[
   {"mark":"area","encoding":{"y":{"field":"n","type":"quantitative","scale":{"domain":[0,57]},"axis":null}}},
   {"data":{"name":"markers"},"mark":"rule"},
   {"mark":"line","encoding":{"y":{"field":"n","type":"quantitative","scale":{"domain":[0,57]},"axis":null}}},
   {"mark":{"type":"rule","strokeWidth":2},"encoding":{"x":{"aggregate":"min","field":"dna","type":"quantitative"},"x2":{"aggregate":"max","field":"dna"},"y":{"datum":0,"type":"quantitative"}}},
   {"transform":[{"aggregate":[{"op":"min","field":"dna","as":"x0"}],"groupby":["min"]},{"calculate":"datum.min+' min'","as":"lab"}],"mark":{"type":"text","align":"right","baseline":"alphabetic","dx":-3,"dy":-6,"fontSize":20},"encoding":{"x":{"field":"x0","type":"quantitative"},"y":{"datum":0,"type":"quantitative"},"text":{"field":"lab","type":"nominal"}}}
  ]},
  {"width":186,"height":54,"data":{"name":"flow"},"transform":[{"filter":"datum.g=='A'&&datum.tr=='—'&&datum.min==150"}],"encoding":{"x":{"field":"dna","type":"quantitative","scale":{"domain":[-3.957,4.13],"nice":false,"zero":false},"axis":{"values":[1,2],"labelExpr":"datum.value+'C'","domain":false,"grid":false,"ticks":true,"tickSize":16,"tickWidth":1.3,"tickColor":"#1a1a1a","labelFontSize":19,"labelColor":"#111111","labelPadding":-1,"labelAlign":{"condition":{"test":"datum.value==1","value":"right"},"value":"left"},"labelOffset":{"condition":{"test":"datum.value==1","value":3},"value":-4},"labelBound":false,"labelFlush":false,"labelOverlap":false,"title":null}}},"layer":[
   {"mark":"area","encoding":{"y":{"field":"n","type":"quantitative","scale":{"domain":[0,54]},"axis":null}}},
   {"data":{"name":"markers"},"mark":"rule"},
   {"mark":"line","encoding":{"y":{"field":"n","type":"quantitative","scale":{"domain":[0,54]},"axis":null}}},
   {"mark":{"type":"rule","strokeWidth":2},"encoding":{"x":{"aggregate":"min","field":"dna","type":"quantitative"},"x2":{"aggregate":"max","field":"dna"},"y":{"datum":0,"type":"quantitative"}}},
   {"transform":[{"aggregate":[{"op":"min","field":"dna","as":"x0"}],"groupby":["min"]},{"calculate":"datum.min+' min'","as":"lab"}],"mark":{"type":"text","align":"right","baseline":"alphabetic","dx":-3,"dy":-6,"fontSize":20},"encoding":{"x":{"field":"x0","type":"quantitative"},"y":{"datum":0,"type":"quantitative"},"text":{"field":"lab","type":"nominal"}}}
  ]}
 ],"spacing":0,"bounds":"flush"},
 {"vconcat":[
  {"width":130,"height":97,"data":{"values":[]},"mark":"point"},
  {"width":130,"height":90,"data":{"name":"flow"},"transform":[{"filter":"datum.g=='A'&&datum.tr=='MMS'&&datum.min==30"}],"encoding":{"x":{"field":"dna","type":"quantitative","scale":{"domain":[-1.333,4.857],"nice":false,"zero":false},"axis":null}},"layer":[
   {"mark":"area","encoding":{"y":{"field":"n","type":"quantitative","scale":{"domain":[0,90]},"axis":null}}},
   {"data":{"name":"markers"},"mark":"rule"},
   {"mark":"line","encoding":{"y":{"field":"n","type":"quantitative","scale":{"domain":[0,90]},"axis":null}}},
   {"mark":{"type":"rule","strokeWidth":2},"encoding":{"x":{"aggregate":"min","field":"dna","type":"quantitative"},"x2":{"aggregate":"max","field":"dna"},"y":{"datum":0,"type":"quantitative"}}}
  ]},
  {"width":130,"height":66,"data":{"name":"flow"},"transform":[{"filter":"datum.g=='A'&&datum.tr=='MMS'&&datum.min==60"}],"encoding":{"x":{"field":"dna","type":"quantitative","scale":{"domain":[-1.333,4.857],"nice":false,"zero":false},"axis":null}},"layer":[
   {"mark":"area","encoding":{"y":{"field":"n","type":"quantitative","scale":{"domain":[0,66]},"axis":null}}},
   {"data":{"name":"markers"},"mark":"rule"},
   {"mark":"line","encoding":{"y":{"field":"n","type":"quantitative","scale":{"domain":[0,66]},"axis":null}}},
   {"mark":{"type":"rule","strokeWidth":2},"encoding":{"x":{"aggregate":"min","field":"dna","type":"quantitative"},"x2":{"aggregate":"max","field":"dna"},"y":{"datum":0,"type":"quantitative"}}}
  ]},
  {"width":130,"height":59,"data":{"name":"flow"},"transform":[{"filter":"datum.g=='A'&&datum.tr=='MMS'&&datum.min==90"}],"encoding":{"x":{"field":"dna","type":"quantitative","scale":{"domain":[-1.333,4.857],"nice":false,"zero":false},"axis":null}},"layer":[
   {"mark":"area","encoding":{"y":{"field":"n","type":"quantitative","scale":{"domain":[0,59]},"axis":null}}},
   {"data":{"name":"markers"},"mark":"rule"},
   {"mark":"line","encoding":{"y":{"field":"n","type":"quantitative","scale":{"domain":[0,59]},"axis":null}}},
   {"mark":{"type":"rule","strokeWidth":2},"encoding":{"x":{"aggregate":"min","field":"dna","type":"quantitative"},"x2":{"aggregate":"max","field":"dna"},"y":{"datum":0,"type":"quantitative"}}}
  ]},
  {"width":130,"height":57,"data":{"name":"flow"},"transform":[{"filter":"datum.g=='A'&&datum.tr=='MMS'&&datum.min==120"}],"encoding":{"x":{"field":"dna","type":"quantitative","scale":{"domain":[-1.333,4.857],"nice":false,"zero":false},"axis":null}},"layer":[
   {"mark":"area","encoding":{"y":{"field":"n","type":"quantitative","scale":{"domain":[0,57]},"axis":null}}},
   {"data":{"name":"markers"},"mark":"rule"},
   {"mark":"line","encoding":{"y":{"field":"n","type":"quantitative","scale":{"domain":[0,57]},"axis":null}}},
   {"mark":{"type":"rule","strokeWidth":2},"encoding":{"x":{"aggregate":"min","field":"dna","type":"quantitative"},"x2":{"aggregate":"max","field":"dna"},"y":{"datum":0,"type":"quantitative"}}}
  ]},
  {"width":130,"height":54,"data":{"name":"flow"},"transform":[{"filter":"datum.g=='A'&&datum.tr=='MMS'&&datum.min==150"}],"encoding":{"x":{"field":"dna","type":"quantitative","scale":{"domain":[-1.333,4.857],"nice":false,"zero":false},"axis":{"values":[1,2],"labelExpr":"datum.value+'C'","domain":false,"grid":false,"ticks":true,"tickSize":16,"tickWidth":1.3,"tickColor":"#1a1a1a","labelFontSize":19,"labelColor":"#111111","labelPadding":-1,"labelAlign":{"condition":{"test":"datum.value==1","value":"right"},"value":"left"},"labelOffset":{"condition":{"test":"datum.value==1","value":3},"value":-4},"labelBound":false,"labelFlush":false,"labelOverlap":false,"title":null}}},"layer":[
   {"mark":"area","encoding":{"y":{"field":"n","type":"quantitative","scale":{"domain":[0,54]},"axis":null}}},
   {"data":{"name":"markers"},"mark":"rule"},
   {"mark":"line","encoding":{"y":{"field":"n","type":"quantitative","scale":{"domain":[0,54]},"axis":null}}},
   {"mark":{"type":"rule","strokeWidth":2},"encoding":{"x":{"aggregate":"min","field":"dna","type":"quantitative"},"x2":{"aggregate":"max","field":"dna"},"y":{"datum":0,"type":"quantitative"}}}
  ]}
 ],"spacing":0,"bounds":"flush"},
 {"vconcat":[
  {"width":136,"height":97,"data":{"name":"flow"},"transform":[{"filter":"datum.g=='B'&&datum.tr=='—'&&datum.min==0"}],"encoding":{"x":{"field":"dna","type":"quantitative","scale":{"domain":[-1.524,4.952],"nice":false,"zero":false},"axis":null}},"layer":[
   {"mark":"area","encoding":{"y":{"field":"n","type":"quantitative","scale":{"domain":[0,97]},"axis":null}}},
   {"data":{"name":"markers"},"mark":"rule"},
   {"mark":"line","encoding":{"y":{"field":"n","type":"quantitative","scale":{"domain":[0,97]},"axis":null}}},
   {"mark":{"type":"rule","strokeWidth":2},"encoding":{"x":{"aggregate":"min","field":"dna","type":"quantitative"},"x2":{"aggregate":"max","field":"dna"},"y":{"datum":0,"type":"quantitative"}}}
  ]},
  {"width":136,"height":90,"data":{"name":"flow"},"transform":[{"filter":"datum.g=='B'&&datum.tr=='—'&&datum.min==30"}],"encoding":{"x":{"field":"dna","type":"quantitative","scale":{"domain":[-1.524,4.952],"nice":false,"zero":false},"axis":null}},"layer":[
   {"mark":"area","encoding":{"y":{"field":"n","type":"quantitative","scale":{"domain":[0,90]},"axis":null}}},
   {"data":{"name":"markers"},"mark":"rule"},
   {"mark":"line","encoding":{"y":{"field":"n","type":"quantitative","scale":{"domain":[0,90]},"axis":null}}},
   {"mark":{"type":"rule","strokeWidth":2},"encoding":{"x":{"aggregate":"min","field":"dna","type":"quantitative"},"x2":{"aggregate":"max","field":"dna"},"y":{"datum":0,"type":"quantitative"}}}
  ]},
  {"width":136,"height":66,"data":{"name":"flow"},"transform":[{"filter":"datum.g=='B'&&datum.tr=='—'&&datum.min==60"}],"encoding":{"x":{"field":"dna","type":"quantitative","scale":{"domain":[-1.524,4.952],"nice":false,"zero":false},"axis":null}},"layer":[
   {"mark":"area","encoding":{"y":{"field":"n","type":"quantitative","scale":{"domain":[0,66]},"axis":null}}},
   {"data":{"name":"markers"},"mark":"rule"},
   {"mark":"line","encoding":{"y":{"field":"n","type":"quantitative","scale":{"domain":[0,66]},"axis":null}}},
   {"mark":{"type":"rule","strokeWidth":2},"encoding":{"x":{"aggregate":"min","field":"dna","type":"quantitative"},"x2":{"aggregate":"max","field":"dna"},"y":{"datum":0,"type":"quantitative"}}}
  ]},
  {"width":136,"height":59,"data":{"name":"flow"},"transform":[{"filter":"datum.g=='B'&&datum.tr=='—'&&datum.min==90"}],"encoding":{"x":{"field":"dna","type":"quantitative","scale":{"domain":[-1.524,4.952],"nice":false,"zero":false},"axis":null}},"layer":[
   {"mark":"area","encoding":{"y":{"field":"n","type":"quantitative","scale":{"domain":[0,59]},"axis":null}}},
   {"data":{"name":"markers"},"mark":"rule"},
   {"mark":"line","encoding":{"y":{"field":"n","type":"quantitative","scale":{"domain":[0,59]},"axis":null}}},
   {"mark":{"type":"rule","strokeWidth":2},"encoding":{"x":{"aggregate":"min","field":"dna","type":"quantitative"},"x2":{"aggregate":"max","field":"dna"},"y":{"datum":0,"type":"quantitative"}}}
  ]},
  {"width":136,"height":57,"data":{"name":"flow"},"transform":[{"filter":"datum.g=='B'&&datum.tr=='—'&&datum.min==120"}],"encoding":{"x":{"field":"dna","type":"quantitative","scale":{"domain":[-1.524,4.952],"nice":false,"zero":false},"axis":null}},"layer":[
   {"mark":"area","encoding":{"y":{"field":"n","type":"quantitative","scale":{"domain":[0,57]},"axis":null}}},
   {"data":{"name":"markers"},"mark":"rule"},
   {"mark":"line","encoding":{"y":{"field":"n","type":"quantitative","scale":{"domain":[0,57]},"axis":null}}},
   {"mark":{"type":"rule","strokeWidth":2},"encoding":{"x":{"aggregate":"min","field":"dna","type":"quantitative"},"x2":{"aggregate":"max","field":"dna"},"y":{"datum":0,"type":"quantitative"}}}
  ]},
  {"width":136,"height":54,"data":{"name":"flow"},"transform":[{"filter":"datum.g=='B'&&datum.tr=='—'&&datum.min==150"}],"encoding":{"x":{"field":"dna","type":"quantitative","scale":{"domain":[-1.524,4.952],"nice":false,"zero":false},"axis":{"values":[1,2],"labelExpr":"datum.value+'C'","domain":false,"grid":false,"ticks":true,"tickSize":16,"tickWidth":1.3,"tickColor":"#1a1a1a","labelFontSize":19,"labelColor":"#111111","labelPadding":-1,"labelAlign":{"condition":{"test":"datum.value==1","value":"right"},"value":"left"},"labelOffset":{"condition":{"test":"datum.value==1","value":3},"value":-4},"labelBound":false,"labelFlush":false,"labelOverlap":false,"title":null}}},"layer":[
   {"mark":"area","encoding":{"y":{"field":"n","type":"quantitative","scale":{"domain":[0,54]},"axis":null}}},
   {"data":{"name":"markers"},"mark":"rule"},
   {"mark":"line","encoding":{"y":{"field":"n","type":"quantitative","scale":{"domain":[0,54]},"axis":null}}},
   {"mark":{"type":"rule","strokeWidth":2},"encoding":{"x":{"aggregate":"min","field":"dna","type":"quantitative"},"x2":{"aggregate":"max","field":"dna"},"y":{"datum":0,"type":"quantitative"}}}
  ]}
 ],"spacing":0,"bounds":"flush"},
 {"vconcat":[
  {"width":139,"height":97,"data":{"values":[]},"mark":"point"},
  {"width":139,"height":90,"data":{"name":"flow"},"transform":[{"filter":"datum.g=='B'&&datum.tr=='MMS'&&datum.min==30"}],"encoding":{"x":{"field":"dna","type":"quantitative","scale":{"domain":[-0.975,5.838],"nice":false,"zero":false},"axis":null}},"layer":[
   {"mark":"area","encoding":{"y":{"field":"n","type":"quantitative","scale":{"domain":[0,90]},"axis":null}}},
   {"data":{"name":"markers"},"mark":"rule"},
   {"mark":"line","encoding":{"y":{"field":"n","type":"quantitative","scale":{"domain":[0,90]},"axis":null}}},
   {"mark":{"type":"rule","strokeWidth":2},"encoding":{"x":{"aggregate":"min","field":"dna","type":"quantitative"},"x2":{"aggregate":"max","field":"dna"},"y":{"datum":0,"type":"quantitative"}}}
  ]},
  {"width":139,"height":66,"data":{"name":"flow"},"transform":[{"filter":"datum.g=='B'&&datum.tr=='MMS'&&datum.min==60"}],"encoding":{"x":{"field":"dna","type":"quantitative","scale":{"domain":[-0.975,5.838],"nice":false,"zero":false},"axis":null}},"layer":[
   {"mark":"area","encoding":{"y":{"field":"n","type":"quantitative","scale":{"domain":[0,66]},"axis":null}}},
   {"data":{"name":"markers"},"mark":"rule"},
   {"mark":"line","encoding":{"y":{"field":"n","type":"quantitative","scale":{"domain":[0,66]},"axis":null}}},
   {"mark":{"type":"rule","strokeWidth":2},"encoding":{"x":{"aggregate":"min","field":"dna","type":"quantitative"},"x2":{"aggregate":"max","field":"dna"},"y":{"datum":0,"type":"quantitative"}}}
  ]},
  {"width":139,"height":59,"data":{"name":"flow"},"transform":[{"filter":"datum.g=='B'&&datum.tr=='MMS'&&datum.min==90"}],"encoding":{"x":{"field":"dna","type":"quantitative","scale":{"domain":[-0.975,5.838],"nice":false,"zero":false},"axis":null}},"layer":[
   {"mark":"area","encoding":{"y":{"field":"n","type":"quantitative","scale":{"domain":[0,59]},"axis":null}}},
   {"data":{"name":"markers"},"mark":"rule"},
   {"mark":"line","encoding":{"y":{"field":"n","type":"quantitative","scale":{"domain":[0,59]},"axis":null}}},
   {"mark":{"type":"rule","strokeWidth":2},"encoding":{"x":{"aggregate":"min","field":"dna","type":"quantitative"},"x2":{"aggregate":"max","field":"dna"},"y":{"datum":0,"type":"quantitative"}}}
  ]},
  {"width":139,"height":57,"data":{"name":"flow"},"transform":[{"filter":"datum.g=='B'&&datum.tr=='MMS'&&datum.min==120"}],"encoding":{"x":{"field":"dna","type":"quantitative","scale":{"domain":[-0.975,5.838],"nice":false,"zero":false},"axis":null}},"layer":[
   {"mark":"area","encoding":{"y":{"field":"n","type":"quantitative","scale":{"domain":[0,57]},"axis":null}}},
   {"data":{"name":"markers"},"mark":"rule"},
   {"mark":"line","encoding":{"y":{"field":"n","type":"quantitative","scale":{"domain":[0,57]},"axis":null}}},
   {"mark":{"type":"rule","strokeWidth":2},"encoding":{"x":{"aggregate":"min","field":"dna","type":"quantitative"},"x2":{"aggregate":"max","field":"dna"},"y":{"datum":0,"type":"quantitative"}}}
  ]},
  {"width":139,"height":54,"data":{"name":"flow"},"transform":[{"filter":"datum.g=='B'&&datum.tr=='MMS'&&datum.min==150"}],"encoding":{"x":{"field":"dna","type":"quantitative","scale":{"domain":[-0.975,5.838],"nice":false,"zero":false},"axis":{"values":[1,2],"labelExpr":"datum.value+'C'","domain":false,"grid":false,"ticks":true,"tickSize":16,"tickWidth":1.3,"tickColor":"#1a1a1a","labelFontSize":19,"labelColor":"#111111","labelPadding":-1,"labelAlign":{"condition":{"test":"datum.value==1","value":"right"},"value":"left"},"labelOffset":{"condition":{"test":"datum.value==1","value":3},"value":-4},"labelBound":false,"labelFlush":false,"labelOverlap":false,"title":null}}},"layer":[
   {"mark":"area","encoding":{"y":{"field":"n","type":"quantitative","scale":{"domain":[0,54]},"axis":null}}},
   {"data":{"name":"markers"},"mark":"rule"},
   {"mark":"line","encoding":{"y":{"field":"n","type":"quantitative","scale":{"domain":[0,54]},"axis":null}}},
   {"mark":{"type":"rule","strokeWidth":2},"encoding":{"x":{"aggregate":"min","field":"dna","type":"quantitative"},"x2":{"aggregate":"max","field":"dna"},"y":{"datum":0,"type":"quantitative"}}}
  ]}
 ],"spacing":0,"bounds":"flush"},
 {"vconcat":[
  {"width":134,"height":97,"data":{"name":"flow"},"transform":[{"filter":"datum.g=='C'&&datum.tr=='—'&&datum.min==0"}],"encoding":{"x":{"field":"dna","type":"quantitative","scale":{"domain":[-1.51,4.871],"nice":false,"zero":false},"axis":null}},"layer":[
   {"mark":"area","encoding":{"y":{"field":"n","type":"quantitative","scale":{"domain":[0,97]},"axis":null}}},
   {"data":{"name":"markers"},"mark":"rule"},
   {"mark":"line","encoding":{"y":{"field":"n","type":"quantitative","scale":{"domain":[0,97]},"axis":null}}},
   {"mark":{"type":"rule","strokeWidth":2},"encoding":{"x":{"aggregate":"min","field":"dna","type":"quantitative"},"x2":{"aggregate":"max","field":"dna"},"y":{"datum":0,"type":"quantitative"}}}
  ]},
  {"width":134,"height":90,"data":{"name":"flow"},"transform":[{"filter":"datum.g=='C'&&datum.tr=='—'&&datum.min==30"}],"encoding":{"x":{"field":"dna","type":"quantitative","scale":{"domain":[-1.51,4.871],"nice":false,"zero":false},"axis":null}},"layer":[
   {"mark":"area","encoding":{"y":{"field":"n","type":"quantitative","scale":{"domain":[0,90]},"axis":null}}},
   {"data":{"name":"markers"},"mark":"rule"},
   {"mark":"line","encoding":{"y":{"field":"n","type":"quantitative","scale":{"domain":[0,90]},"axis":null}}},
   {"mark":{"type":"rule","strokeWidth":2},"encoding":{"x":{"aggregate":"min","field":"dna","type":"quantitative"},"x2":{"aggregate":"max","field":"dna"},"y":{"datum":0,"type":"quantitative"}}}
  ]},
  {"width":134,"height":66,"data":{"name":"flow"},"transform":[{"filter":"datum.g=='C'&&datum.tr=='—'&&datum.min==60"}],"encoding":{"x":{"field":"dna","type":"quantitative","scale":{"domain":[-1.51,4.871],"nice":false,"zero":false},"axis":null}},"layer":[
   {"mark":"area","encoding":{"y":{"field":"n","type":"quantitative","scale":{"domain":[0,66]},"axis":null}}},
   {"data":{"name":"markers"},"mark":"rule"},
   {"mark":"line","encoding":{"y":{"field":"n","type":"quantitative","scale":{"domain":[0,66]},"axis":null}}},
   {"mark":{"type":"rule","strokeWidth":2},"encoding":{"x":{"aggregate":"min","field":"dna","type":"quantitative"},"x2":{"aggregate":"max","field":"dna"},"y":{"datum":0,"type":"quantitative"}}}
  ]},
  {"width":134,"height":59,"data":{"name":"flow"},"transform":[{"filter":"datum.g=='C'&&datum.tr=='—'&&datum.min==90"}],"encoding":{"x":{"field":"dna","type":"quantitative","scale":{"domain":[-1.51,4.871],"nice":false,"zero":false},"axis":null}},"layer":[
   {"mark":"area","encoding":{"y":{"field":"n","type":"quantitative","scale":{"domain":[0,59]},"axis":null}}},
   {"data":{"name":"markers"},"mark":"rule"},
   {"mark":"line","encoding":{"y":{"field":"n","type":"quantitative","scale":{"domain":[0,59]},"axis":null}}},
   {"mark":{"type":"rule","strokeWidth":2},"encoding":{"x":{"aggregate":"min","field":"dna","type":"quantitative"},"x2":{"aggregate":"max","field":"dna"},"y":{"datum":0,"type":"quantitative"}}}
  ]},
  {"width":134,"height":57,"data":{"name":"flow"},"transform":[{"filter":"datum.g=='C'&&datum.tr=='—'&&datum.min==120"}],"encoding":{"x":{"field":"dna","type":"quantitative","scale":{"domain":[-1.51,4.871],"nice":false,"zero":false},"axis":null}},"layer":[
   {"mark":"area","encoding":{"y":{"field":"n","type":"quantitative","scale":{"domain":[0,57]},"axis":null}}},
   {"data":{"name":"markers"},"mark":"rule"},
   {"mark":"line","encoding":{"y":{"field":"n","type":"quantitative","scale":{"domain":[0,57]},"axis":null}}},
   {"mark":{"type":"rule","strokeWidth":2},"encoding":{"x":{"aggregate":"min","field":"dna","type":"quantitative"},"x2":{"aggregate":"max","field":"dna"},"y":{"datum":0,"type":"quantitative"}}}
  ]},
  {"width":134,"height":54,"data":{"name":"flow"},"transform":[{"filter":"datum.g=='C'&&datum.tr=='—'&&datum.min==150"}],"encoding":{"x":{"field":"dna","type":"quantitative","scale":{"domain":[-1.51,4.871],"nice":false,"zero":false},"axis":{"values":[1,2],"labelExpr":"datum.value+'C'","domain":false,"grid":false,"ticks":true,"tickSize":16,"tickWidth":1.3,"tickColor":"#1a1a1a","labelFontSize":19,"labelColor":"#111111","labelPadding":-1,"labelAlign":{"condition":{"test":"datum.value==1","value":"right"},"value":"left"},"labelOffset":{"condition":{"test":"datum.value==1","value":3},"value":-4},"labelBound":false,"labelFlush":false,"labelOverlap":false,"title":null}}},"layer":[
   {"mark":"area","encoding":{"y":{"field":"n","type":"quantitative","scale":{"domain":[0,54]},"axis":null}}},
   {"data":{"name":"markers"},"mark":"rule"},
   {"mark":"line","encoding":{"y":{"field":"n","type":"quantitative","scale":{"domain":[0,54]},"axis":null}}},
   {"mark":{"type":"rule","strokeWidth":2},"encoding":{"x":{"aggregate":"min","field":"dna","type":"quantitative"},"x2":{"aggregate":"max","field":"dna"},"y":{"datum":0,"type":"quantitative"}}}
  ]}
 ],"spacing":0,"bounds":"flush"},
 {"vconcat":[
  {"width":107,"height":97,"data":{"values":[]},"mark":"point"},
  {"width":107,"height":90,"data":{"name":"flow"},"transform":[{"filter":"datum.g=='C'&&datum.tr=='MMS'&&datum.min==30"}],"encoding":{"x":{"field":"dna","type":"quantitative","scale":{"domain":[-0.953,4.023],"nice":false,"zero":false},"axis":null}},"layer":[
   {"mark":{"type":"area","clip":true},"encoding":{"y":{"field":"n","type":"quantitative","scale":{"domain":[0,90]},"axis":null}}},
   {"data":{"name":"markers"},"mark":"rule"},
   {"mark":{"type":"line","clip":true},"encoding":{"y":{"field":"n","type":"quantitative","scale":{"domain":[0,90]},"axis":null}}},
   {"mark":{"type":"rule","strokeWidth":2,"clip":true},"encoding":{"x":{"aggregate":"min","field":"dna","type":"quantitative"},"x2":{"aggregate":"max","field":"dna"},"y":{"datum":0,"type":"quantitative"}}}
  ]},
  {"width":107,"height":66,"data":{"name":"flow"},"transform":[{"filter":"datum.g=='C'&&datum.tr=='MMS'&&datum.min==60"}],"encoding":{"x":{"field":"dna","type":"quantitative","scale":{"domain":[-0.953,4.023],"nice":false,"zero":false},"axis":null}},"layer":[
   {"mark":{"type":"area","clip":true},"encoding":{"y":{"field":"n","type":"quantitative","scale":{"domain":[0,66]},"axis":null}}},
   {"data":{"name":"markers"},"mark":"rule"},
   {"mark":{"type":"line","clip":true},"encoding":{"y":{"field":"n","type":"quantitative","scale":{"domain":[0,66]},"axis":null}}},
   {"mark":{"type":"rule","strokeWidth":2,"clip":true},"encoding":{"x":{"aggregate":"min","field":"dna","type":"quantitative"},"x2":{"aggregate":"max","field":"dna"},"y":{"datum":0,"type":"quantitative"}}}
  ]},
  {"width":107,"height":59,"data":{"name":"flow"},"transform":[{"filter":"datum.g=='C'&&datum.tr=='MMS'&&datum.min==90"}],"encoding":{"x":{"field":"dna","type":"quantitative","scale":{"domain":[-0.953,4.023],"nice":false,"zero":false},"axis":null}},"layer":[
   {"mark":{"type":"area","clip":true},"encoding":{"y":{"field":"n","type":"quantitative","scale":{"domain":[0,59]},"axis":null}}},
   {"data":{"name":"markers"},"mark":"rule"},
   {"mark":{"type":"line","clip":true},"encoding":{"y":{"field":"n","type":"quantitative","scale":{"domain":[0,59]},"axis":null}}},
   {"mark":{"type":"rule","strokeWidth":2,"clip":true},"encoding":{"x":{"aggregate":"min","field":"dna","type":"quantitative"},"x2":{"aggregate":"max","field":"dna"},"y":{"datum":0,"type":"quantitative"}}}
  ]},
  {"width":107,"height":57,"data":{"name":"flow"},"transform":[{"filter":"datum.g=='C'&&datum.tr=='MMS'&&datum.min==120"}],"encoding":{"x":{"field":"dna","type":"quantitative","scale":{"domain":[-0.953,4.023],"nice":false,"zero":false},"axis":null}},"layer":[
   {"mark":{"type":"area","clip":true},"encoding":{"y":{"field":"n","type":"quantitative","scale":{"domain":[0,57]},"axis":null}}},
   {"data":{"name":"markers"},"mark":"rule"},
   {"mark":{"type":"line","clip":true},"encoding":{"y":{"field":"n","type":"quantitative","scale":{"domain":[0,57]},"axis":null}}},
   {"mark":{"type":"rule","strokeWidth":2,"clip":true},"encoding":{"x":{"aggregate":"min","field":"dna","type":"quantitative"},"x2":{"aggregate":"max","field":"dna"},"y":{"datum":0,"type":"quantitative"}}}
  ]},
  {"width":107,"height":54,"data":{"name":"flow"},"transform":[{"filter":"datum.g=='C'&&datum.tr=='MMS'&&datum.min==150"}],"encoding":{"x":{"field":"dna","type":"quantitative","scale":{"domain":[-0.953,4.023],"nice":false,"zero":false},"axis":{"values":[1,2],"labelExpr":"datum.value+'C'","domain":false,"grid":false,"ticks":true,"tickSize":16,"tickWidth":1.3,"tickColor":"#1a1a1a","labelFontSize":19,"labelColor":"#111111","labelPadding":-1,"labelAlign":{"condition":{"test":"datum.value==1","value":"right"},"value":"left"},"labelOffset":{"condition":{"test":"datum.value==1","value":3},"value":-4},"labelBound":false,"labelFlush":false,"labelOverlap":false,"title":null}}},"layer":[
   {"mark":{"type":"area","clip":true},"encoding":{"y":{"field":"n","type":"quantitative","scale":{"domain":[0,54]},"axis":null}}},
   {"data":{"name":"markers"},"mark":"rule"},
   {"mark":{"type":"line","clip":true},"encoding":{"y":{"field":"n","type":"quantitative","scale":{"domain":[0,54]},"axis":null}}},
   {"mark":{"type":"rule","strokeWidth":2,"clip":true},"encoding":{"x":{"aggregate":"min","field":"dna","type":"quantitative"},"x2":{"aggregate":"max","field":"dna"},"y":{"datum":0,"type":"quantitative"}}}
  ]}
 ],"spacing":0,"bounds":"flush"}
],"spacing":0}
],
"config":{
 "view":{"stroke":null},
 "concat":{"spacing":0},
 "font":"Liberation Sans",
 "area":{"color":"#c4c5c7","interpolate":"monotone"},
 "line":{"color":"#111111","strokeWidth":1.6,"interpolate":"monotone"},
 "rule":{"color":"#1a1a1a","strokeWidth":1.3},
 "text":{"font":"Liberation Sans","color":"#111111"},
 "tick":{"color":"#111111","thickness":2},
 "axis":{"labelFont":"Liberation Sans"}
}
}
